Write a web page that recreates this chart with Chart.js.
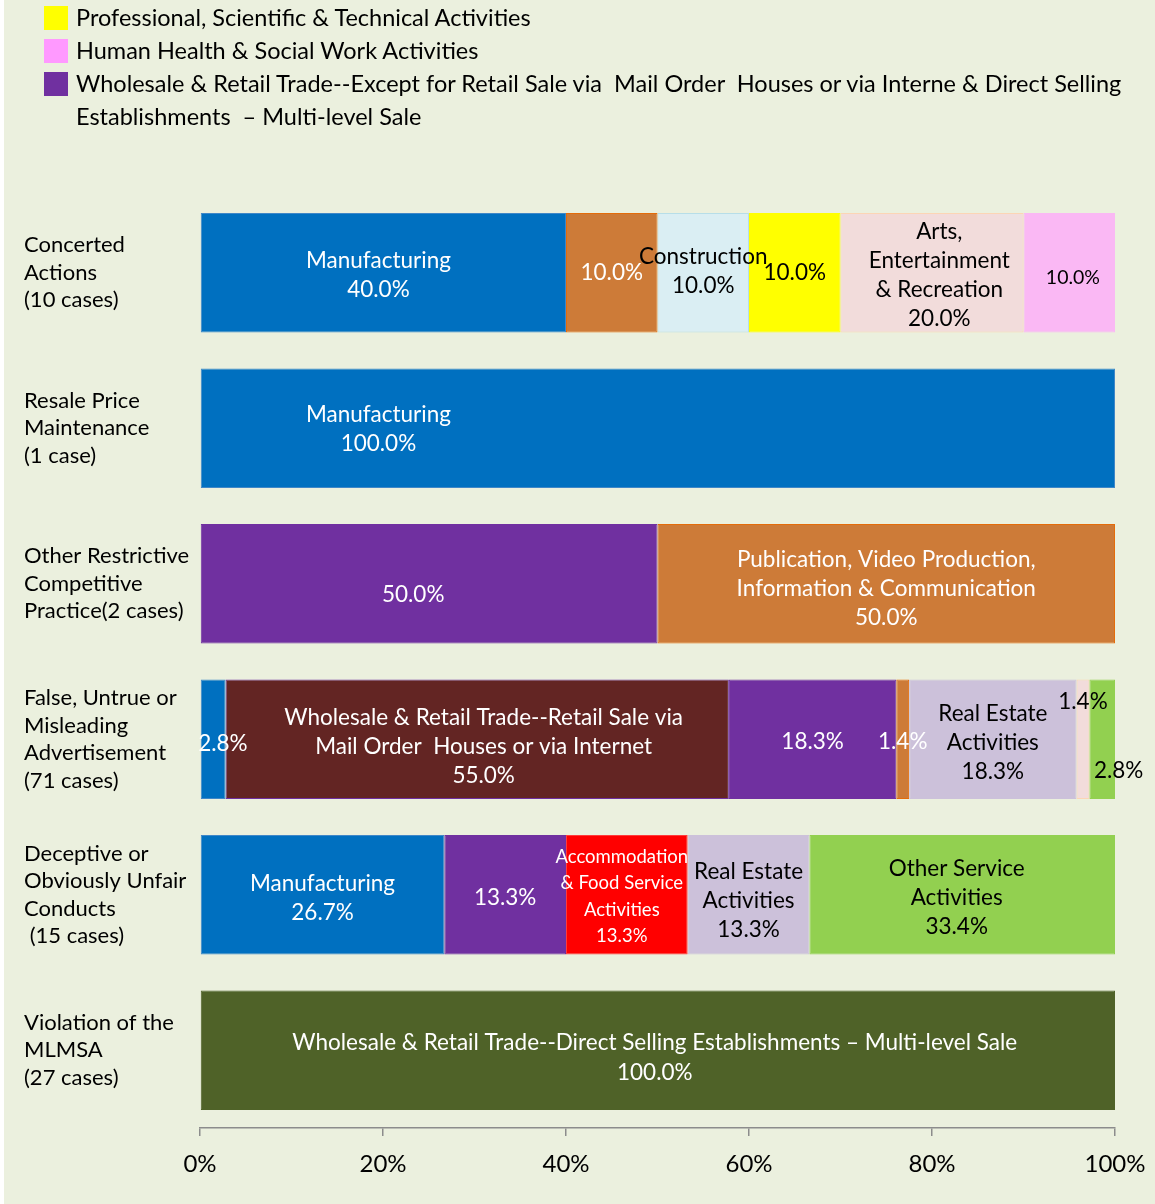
<!DOCTYPE html>
<html>
<head>
<meta charset="utf-8">
<script src="https://cdn.jsdelivr.net/npm/chart.js@4.4.1/dist/chart.umd.min.js"></script>
<style>
  html, body { margin: 0; padding: 0; background: #ffffff; }
  #panel { position: absolute; left: 4px; top: 0; width: 1151px; height: 1204px; background: #EBF0DE; overflow: hidden; }
  #chart { position: absolute; left: 0; top: 0; }
  #legend { position: absolute; left: 40px; top: 1px; font-family: Lato, "Open Sans", sans-serif; font-size: 23.5px; color: #000; }
  .li { position: relative; padding-left: 32px; line-height: 33px; width: 1070px; white-space: pre-wrap; }
  .sw { position: absolute; left: 0; top: 5px; width: 24px; height: 24px; }
</style>
</head>
<body>
<div id="panel">
  <canvas id="chart" width="1151" height="1204"></canvas>
  <div id="legend"></div>
</div>
<script>
// ---------- DATA ----------
const categories = [
  ['Concerted', 'Actions', '(10 cases)'],
  ['Resale Price', 'Maintenance', '(1 case)'],
  ['Other Restrictive', 'Competitive', 'Practice(2 cases)'],
  ['False, Untrue or', 'Misleading', 'Advertisement', '(71 cases)'],
  ['Deceptive or', 'Obviously Unfair', 'Conducts', ' (15 cases)'],
  ['Violation of the', 'MLMSA', '(27 cases)']
];

const seriesNames = [
  'Manufacturing',
  'Wholesale & Retail Trade--Retail Sale via Mail Order Houses or via Internet',
  'Wholesale & Retail Trade--Except for Retail Sale via  Mail Order  Houses or via Interne & Direct Selling Establishments  \u2013 Multi-level Sale',
  'Publication, Video Production, Information & Communication',
  'Construction',
  'Professional, Scientific & Technical Activities',
  'Accommodation & Food Service Activities',
  'Real Estate Activities',
  'Arts, Entertainment & Recreation',
  'Human Health & Social Work Activities',
  'Other Service Activities',
  'Wholesale & Retail Trade--Direct Selling Establishments \u2013 Multi-level Sale'
];

const manufacturing   = [40.0, 100.0, 0,    2.8,  26.7, 0];
const retailMailOrder = [0,    0,     0,    55.0, 0,    0];
const wholesaleExcept = [0,    0,     50.0, 18.3, 13.3, 0];
const publication     = [10.0, 0,     50.0, 1.4,  0,    0];
const construction    = [10.0, 0,     0,    0,    0,    0];
const professional    = [10.0, 0,     0,    0,    0,    0];
const accommodation   = [0,    0,     0,    0,    13.3, 0];
const realEstate      = [0,    0,     0,    18.3, 13.3, 0];
const arts            = [20.0, 0,     0,    1.4,  0,    0];
const humanHealth     = [10.0, 0,     0,    0,    0,    0];
const otherService    = [0,    0,     0,    2.8,  33.4, 0];
const directSelling   = [0,    0,     0,    0,    0,    100.0];

// names shown inside segments (percent is added from the values)
const segmentNames = [
  ['Manufacturing', 'Manufacturing', '', '', 'Manufacturing', ''],
  ['', '', '', 'Wholesale & Retail Trade--Retail Sale via\nMail Order  Houses or via Internet', '', ''],
  ['', '', '', '', '', ''],
  ['', '', 'Publication, Video Production,\nInformation & Communication', '', '', ''],
  ['Construction', '', '', '', '', ''],
  ['', '', '', '', '', ''],
  ['', '', '', '', 'Accommodation\n& Food Service\nActivities', ''],
  ['', '', '', 'Real Estate\nActivities', 'Real Estate\nActivities', ''],
  ['Arts,\nEntertainment\n& Recreation', '', '', '', '', ''],
  ['', '', '', '', '', ''],
  ['', '', '', '', 'Other Service\nActivities', ''],
  ['', '', '', '', '', 'Wholesale & Retail Trade--Direct Selling Establishments \u2013 Multi-level Sale']
];

const legendShown = [5, 9, 2];
const xTicks = [0, 20, 40, 60, 80, 100];

// ---------- STYLES ----------
const seriesValues = [manufacturing, retailMailOrder, wholesaleExcept, publication, construction,
  professional, accommodation, realEstate, arts, humanHealth, otherService, directSelling];
const fills   = ['#0070C0', '#632523', '#7030A0', '#CD7B38', '#DAEEF3', '#FFFF00', '#FF0000', '#CCC1DA', '#F2DCDB', '#FAB8F4', '#92D050', '#4F6228'];
const borders = ['#3F87C8', '#7030A0', '#7030A0', '#E46C0A', '#B7DEE8', '#FFFF00', '#FF3B3B', '#CCC1DA', '#FCD5B5', '#FAB8F4', '#92D050', '#4F6228'];
const legendFills = ['#0070C0', '#632523', '#7030A0', '#CD7B38', '#DAEEF3', '#FFFF00', '#FF0000', '#CCC1DA', '#F2DCDB', '#FF99FF', '#92D050', '#4F6228'];
const textCol = ['#fff', '#fff', '#fff', '#fff', '#000', '#000', '#fff', '#000', '#000', '#000', '#000', '#fff'];
const FONT = 'Lato, "Open Sans", sans-serif';

// label tweaks: key "series|row" -> anchor (in % units) / vertical nudge / font size / line height
const labelTweaks = {
  '0|0': { at: 19.5, dy: 2 },
  '8|0': { at: 80.8, dy: 2 },
  '9|0': { size: 19.5, at: 95.4, dy: 5 },
  '4|0': { dy: -2 },
  '0|1': { at: 19.5, dy: 1 },
  '2|2': { at: 23.3, dy: 11 },
  '3|2': { dy: 5 },
  '0|3': { at: 2.5, dy: 4 },
  '1|3': { at: 31.0, dy: 7 },
  '2|3': { dy: 2 },
  '3|3': { dy: 2 },
  '7|3': { dy: 3 },
  '8|3': { dy: -38 },
  '10|3': { at: 100.4, dy: 31 },
  '0|4': { dy: 3 },
  '2|4': { dy: 3 },
  '6|4': { size: 18.5, lh: 26.5, at: 46.1, dy: 2 },
  '7|4': { dy: 6 },
  '10|4': { at: 82.7, dy: 3 },
  '11|5': { lh: 30, dy: 7, at: 49.7 }
};

const datasets = seriesValues.map((vals, i) => ({
  label: seriesNames[i],
  data: vals,
  backgroundColor: fills[i],
  borderColor: borders[i],
  borderWidth: 1,
  borderSkipped: false,
  segNames: segmentNames[i],
  textColor: textCol[i],
  categoryPercentage: 1.0,
  barPercentage: 0.768
}));

const segmentLabels = {
  id: 'segmentLabels',
  afterDatasetsDraw(chart) {
    const ctx = chart.ctx;
    const xs = chart.scales.x;
    ctx.save();
    ctx.textAlign = 'center';
    ctx.textBaseline = 'middle';
    chart.data.datasets.forEach((ds, di) => {
      const meta = chart.getDatasetMeta(di);
      meta.data.forEach((bar, ri) => {
        const v = ds.data[ri];
        if (!v) return;
        const t = labelTweaks[di + '|' + ri] || {};
        const name = ds.segNames[ri];
        const lines = (name ? name.split('\n') : []).concat([v.toFixed(1) + '%']);
        const size = t.size || 22.5;
        const lh = t.lh || 29;
        const cx = t.at !== undefined ? xs.getPixelForValue(t.at) : (bar.x + bar.base) / 2;
        const cy = bar.y + (t.dy || 0);
        ctx.font = size + 'px ' + FONT;
        ctx.fillStyle = ds.textColor;
        const y0 = cy - (lines.length - 1) * lh / 2;
        lines.forEach((ln, k) => ctx.fillText(ln, cx, y0 + k * lh));
      });
    });
    ctx.restore();
  }
};

new Chart(document.getElementById('chart'), {
  type: 'bar',
  data: { labels: categories, datasets },
  plugins: [segmentLabels],
  options: {
    indexAxis: 'y',
    responsive: false,
    animation: false,
    layout: { padding: { left: 20, top: 195, right: 40, bottom: 0 } },
    plugins: { legend: { display: false }, tooltip: { enabled: false } },
    scales: {
      x: {
        stacked: true, min: 0, max: 100,
        afterBuildTicks: s => { s.ticks = xTicks.map(v => ({ value: v })); },
        afterFit: s => { s.height = 76; s.paddingLeft = 0; s.paddingRight = 0; },
        grid: { drawOnChartArea: false, color: '#8C8C8C', tickLength: 8, lineWidth: 1.5 },
        border: { display: true, color: '#8C8C8C', width: 1.5 },
        ticks: { padding: 14, color: '#000', font: { family: FONT, size: 24 }, callback: v => v + '%' }
      },
      y: {
        stacked: true,
        afterFit: s => { s.width = 176; },
        grid: { display: false },
        border: { display: false },
        ticks: { crossAlign: 'far', color: '#000', font: { family: FONT, size: 22, lineHeight: 1.25 } }
      }
    }
  }
});

// legend (HTML) built from the datasets
const lg = document.getElementById('legend');
legendShown.forEach(i => {
  const d = document.createElement('div');
  d.className = 'li';
  const sw = document.createElement('span');
  sw.className = 'sw';
  sw.style.background = legendFills[i];
  d.appendChild(sw);
  d.appendChild(document.createTextNode(seriesNames[i]));
  lg.appendChild(d);
});
</script>
</body>
</html>
